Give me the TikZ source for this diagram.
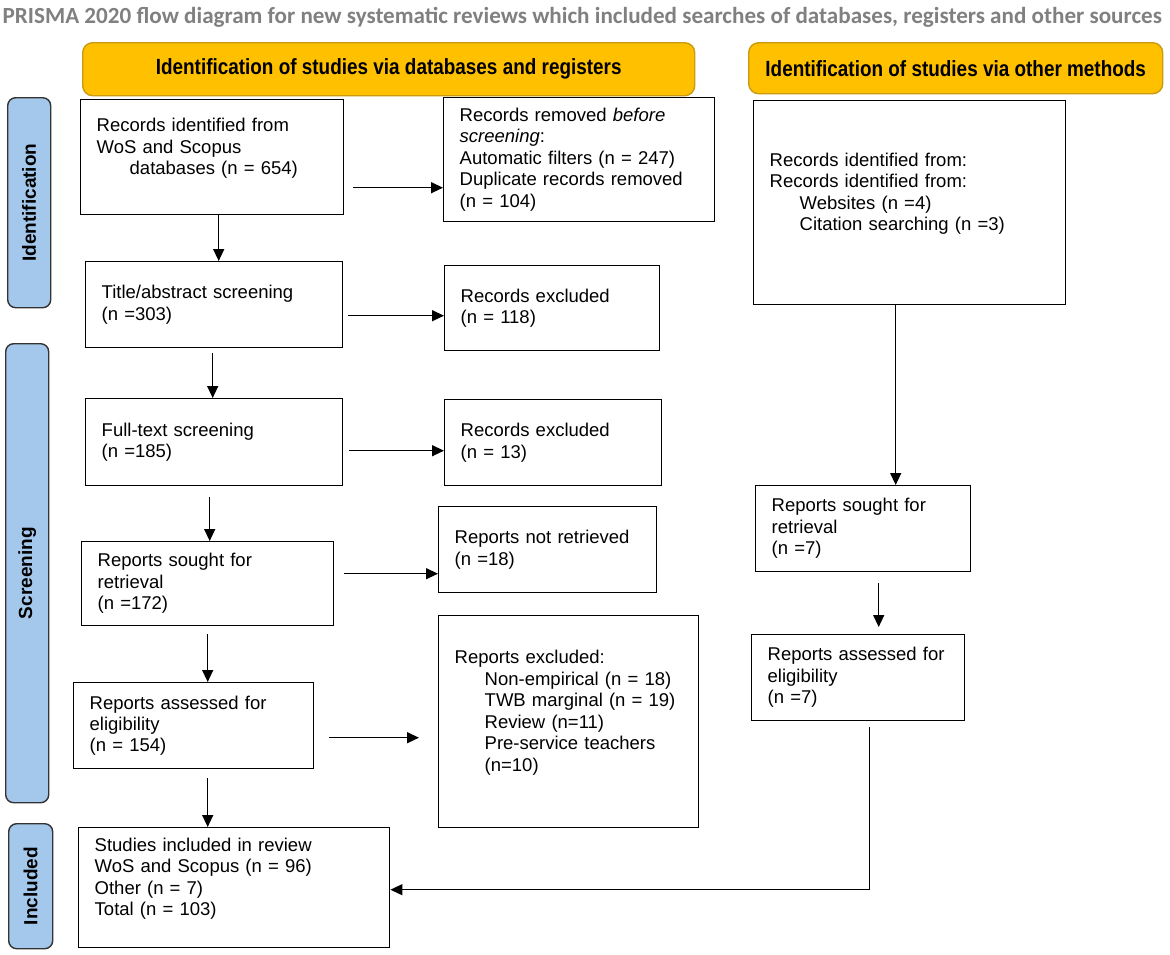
\documentclass[tikz,border=0pt]{standalone}
\usepackage{fontspec}
\setmainfont{Liberation Sans}
\newfontfamily\titlefont{Carlito}
\newfontfamily\narrowfont[FakeStretch=0.86]{Liberation Sans}
\usetikzlibrary{arrows.meta, positioning, calc}

\definecolor{prismagold}{HTML}{FFC000}
\definecolor{golddraw}{HTML}{C99A12}
\definecolor{phaseblue}{HTML}{A4C8EB}
\definecolor{titlegrey}{HTML}{808080}

\begin{document}
\begin{tikzpicture}[
  x=1pt, y=-1pt,
  >={Triangle[length=12pt, width=11pt]}, line width=1.4pt,
  box/.style    = {draw, rectangle, anchor=north west, align=left,
                   inner xsep=16pt, inner ysep=0pt,
                   font=\fontsize{18.5}{21.5}\selectfont},
  header/.style = {draw=golddraw, fill=prismagold, rounded corners=10pt,
                   anchor=north west, inner sep=0pt,
                   font=\narrowfont\bfseries\fontsize{22}{26}\selectfont},
  phase/.style  = {draw=black!80, fill=phaseblue, rounded corners=8pt,
                   anchor=north west, inner sep=0pt,
                   font=\bfseries\fontsize{19}{21}\selectfont},
  flow/.style   = {->},
]
  \useasboundingbox (0,0) rectangle (1170,954);

  % title and column headers
  \node[anchor=west, inner sep=0pt, text=titlegrey,
        font=\titlefont\bfseries\fontsize{23.1}{26}\selectfont] (title) at (2,17)
    {PRISMA 2020 flow diagram for new systematic reviews which included searches of databases, registers and other sources};
  \node[header, minimum width=612pt, minimum height=53pt] (hdbs) at (82,42)
    {Identification of studies via databases and registers};
  \node[header, minimum width=414pt, minimum height=51pt] (hoth) at (748,42)
    {Identification of studies via other methods};

  % phase labels
  \node[phase, minimum width=43pt, minimum height=210pt] (pid)  at (7,97)
    {\rotatebox{90}{Identification}};
  \node[phase, minimum width=43pt, minimum height=459pt] (pscr) at (5,343)
    {\rotatebox{90}{Screening}};
  \node[phase, minimum width=44pt, minimum height=125pt] (pinc) at (8,823)
    {\rotatebox{90}{Included}};

  % databases and registers
  \node[box, text width=231pt, minimum height=115pt] (rec) at (80,99)
    {Records identified from\\WoS and Scopus\\\hspace*{33pt}databases (n = 654)\\\phantom{x}};
  \node[box, text width=239pt, minimum height=124pt] (rem) at (443,97)
    {Records removed \textit{before}\\\textit{screening}:\\Automatic filters (n = 247)\\Duplicate records removed\\(n = 104)};
  \node[box, text width=225pt, minimum height=86pt] (tit) at (85,261)
    {Title/abstract screening\\(n =303)};
  \node[box, text width=183pt, minimum height=85pt] (exca) at (444,265)
    {Records excluded\\(n = 118)};
  \node[box, text width=225pt, minimum height=87pt] (ful) at (85,398)
    {Full-text screening\\(n =185)};
  \node[box, text width=185pt, minimum height=86pt] (excb) at (444,399)
    {Records excluded\\(n = 13)};
  \node[box, text width=220pt, minimum height=84pt] (sou) at (81,541)
    {Reports sought for\\retrieval\\(n =172)};
  \node[box, text width=186pt, minimum height=86pt] (nret) at (438,506)
    {Reports not retrieved\\(n =18)};
  \node[box, text width=208pt, minimum height=86pt] (ass) at (73,682)
    {Reports assessed for\\eligibility\\(n = 154)};
  \node[box, text width=228pt, minimum height=212pt] (excc) at (438,615)
    {Reports excluded:\\\hspace*{30pt}Non-empirical (n = 18)\\\hspace*{30pt}TWB marginal (n = 19)\\\hspace*{30pt}Review (n=11)\\\hspace*{30pt}Pre-service teachers\\\hspace*{30pt}(n=10)\\\phantom{x}};
  \node[box, text width=279pt, minimum height=120pt] (inc) at (78,827)
    {Studies included in review\\WoS and Scopus (n = 96)\\Other (n = 7)\\Total (n = 103)\\\phantom{x}};

  % other methods
  \node[box, text width=280pt, minimum height=204pt] (oth) at (753,100)
    {Records identified from:\\Records identified from:\\\hspace*{30pt}Websites (n =4)\\\hspace*{30pt}Citation searching (n =3)\\\phantom{x}};
  \node[box, text width=183pt, minimum height=86pt] (osou) at (755,485)
    {Reports sought for\\retrieval\\(n =7)};
  \node[box, text width=181pt, minimum height=86pt] (oass) at (751,634)
    {Reports assessed for\\eligibility\\(n =7)};

  % connectors, left column
  \draw[flow] ([xshift=6.5pt]rec.south) -- ([xshift=6.5pt]rec.south |- tit.north);
  \draw[flow, shorten <=9pt] ([yshift=-30.5pt]rec.east) -- ([yshift=-30.5pt]rec.east -| rem.west);
  \draw[flow, shorten <=5pt] ([xshift=-1.5pt]tit.south) -- ([xshift=-1.5pt]tit.south |- ful.north);
  \draw[flow, shorten <=5pt] ([yshift=-11pt]tit.east) -- ([yshift=-11pt]tit.east -| exca.west);
  \draw[flow, shorten <=11pt] ([xshift=-4.5pt]ful.south) -- ([xshift=-4.5pt]ful.south |- sou.north);
  \draw[flow, shorten <=6pt] ([yshift=-8.5pt]ful.east) -- ([yshift=-8.5pt]ful.east -| excb.west);
  \draw[flow, shorten <=8pt] (sou.south) -- (sou.south |- ass.north);
  \draw[flow, shorten <=10pt] ([yshift=10pt]sou.east) -- ([yshift=10pt]sou.east -| nret.west);
  \draw[flow, shorten <=9pt] ([xshift=14pt]ass.south) -- ([xshift=14pt]ass.south |- inc.north);
  \draw[flow, shorten <=15pt, shorten >=19pt] ([yshift=-12pt]ass.east) -- ([yshift=-12pt]ass.east -| excc.west);

  % connectors, right column
  \draw[flow] ([xshift=-14pt]oth.south) -- ([xshift=-14pt]oth.south |- osou.north);
  \draw[flow, shorten <=11pt, shorten >=7pt] ([xshift=15.5pt]osou.south) -- ([xshift=15.5pt]osou.south |- oass.north);
  \draw[flow, shorten <=6pt] ([xshift=11.5pt]oass.south) |- ([yshift=-2pt]inc.east);
\end{tikzpicture}
\end{document}
